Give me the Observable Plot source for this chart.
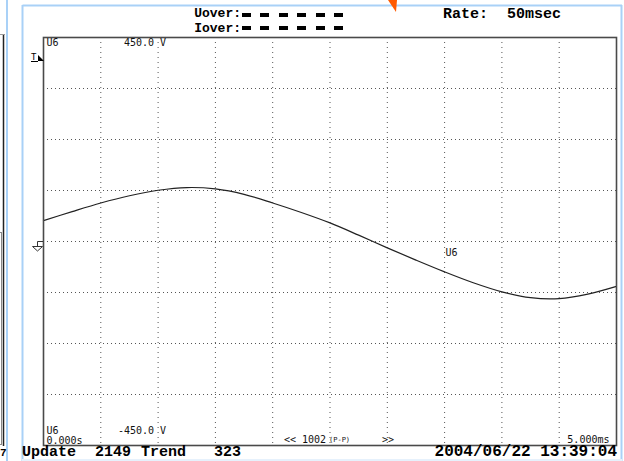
<!DOCTYPE html>
<html>
<head>
<meta charset="utf-8">
<script src="https://cdn.jsdelivr.net/npm/d3@7"></script>
<script src="https://cdn.jsdelivr.net/npm/@observablehq/plot@0.6"></script>
<style>
  html, body { margin: 0; padding: 0; background: #fff; overflow: hidden; }
  #chart { position: relative; width: 624px; height: 461px; }
</style>
</head>
<body>
<div id="chart"></div>
<script>
// ---- data ----
const timeMs = [0, 0.25, 0.5, 0.75, 1.0, 1.25, 1.5, 1.75, 2.0, 2.25, 2.5, 2.75, 3.0, 3.25, 3.5, 3.75, 4.0, 4.25, 4.5, 4.75, 5.0];
const u6Volts = [46, 66, 85, 101, 113, 119, 116, 104, 85, 64, 41, 14, -14, -41, -67, -91, -111, -124, -126, -116, -99];
const xGridTicks = [0.5, 1.0, 1.5, 2.0, 2.5, 3.0, 3.5, 4.0, 4.5];
const yGridTicks = [-337.5, -225, -112.5, 0, 112.5, 225, 337.5];
const channelName = "U6";
const yTopLabel = "450.0";
const yBottomLabel = "-450.0";
const unitLabel = "V";
const tStartLabel = "0.000s";
const tEndLabel = "5.000ms";
const ppLabel = ["<< 1002", "(P-P)", ">>"];
const headerLabels = ["Uover:", "Iover:"];
const rateLabels = ["Rate:", "50msec"];
const footerLabels = ["Update", "2149", "Trend", "323"];
const dateLabel = "2004/06/22 13:39:04";

const data = timeMs.map((t, i) => ({t, v: u6Volts[i]}));
const small = {fontFamily: "DejaVu Sans Mono", fontSize: 10, fill: "#111", lineAnchor: "bottom"};

const chart = Plot.plot({
  width: 624,
  height: 461,
  marginLeft: 43,
  marginRight: 8,
  marginTop: 37,
  marginBottom: 16,
  x: {domain: [0, 5], axis: null},
  y: {domain: [-450, 450], axis: null},
  style: {background: "transparent", overflow: "visible"},
  marks: [
    Plot.ruleX(xGridTicks, {stroke: "#555", strokeWidth: 1, strokeDasharray: "1,4"}),
    Plot.ruleY(yGridTicks, {stroke: "#555", strokeWidth: 1, strokeDasharray: "1,3"}),
    Plot.line(data, {x: "t", y: "v", curve: "catmull-rom", stroke: "#222", strokeWidth: 1.2}),
    Plot.frame({stroke: "#4a4a4a", strokeWidth: 1.6}),
    // labels inside the scope frame
    Plot.text([channelName], {x: 0, y: 450, text: d => d, textAnchor: "start", dx: 3, dy: 8, ...small}),
    Plot.text([yTopLabel], {x: 1, y: 450, text: d => d, textAnchor: "end", dx: -4, dy: 8, ...small}),
    Plot.text([unitLabel], {x: 1, y: 450, text: d => d, textAnchor: "start", dx: 2, dy: 8, ...small}),
    Plot.text([channelName], {x: 0, y: -450, text: d => d, textAnchor: "start", dx: 3, dy: -12, ...small}),
    Plot.text([tStartLabel], {x: 0, y: -450, text: d => d, textAnchor: "start", dx: 3, dy: -2, ...small}),
    Plot.text([yBottomLabel], {x: 1, y: -450, text: d => d, textAnchor: "end", dx: -4, dy: -12, ...small}),
    Plot.text([unitLabel], {x: 1, y: -450, text: d => d, textAnchor: "start", dx: 2, dy: -12, ...small}),
    Plot.text([ppLabel[0]], {x: 2.5, y: -450, text: d => d, textAnchor: "start", dx: -46, dy: -3, ...small}),
    Plot.text([ppLabel[1]], {x: 2.5, y: -450, text: d => d, textAnchor: "start", dx: -1, dy: -4, ...small, fontSize: 7}),
    Plot.text([ppLabel[2]], {x: 2.5, y: -450, text: d => d, textAnchor: "start", dx: 52, dy: -3, ...small}),
    Plot.text([tEndLabel], {x: 5, y: -450, text: d => d, textAnchor: "end", dx: -7, dy: -3, ...small}),
    Plot.text([channelName], {x: 3.5, y: 0, text: d => d, textAnchor: "start", dx: 1, dy: 14, ...small})
  ]
});

document.getElementById("chart").appendChild(chart);

// header / footer text and instrument chrome, positioned in pixels
const svg = d3.select(chart);
const chrome = svg.insert("g", ":first-child");
const blue = "#a9d1f7";
chrome.append("rect").attr("x", 0).attr("y", 0).attr("width", 624).attr("height", 461).attr("fill", "#fff");
chrome.append("line").attr("x1", 22.5).attr("x2", 622).attr("y1", 5.5).attr("y2", 5.5).attr("stroke", blue).attr("stroke-width", 2);
chrome.append("line").attr("x1", 22.5).attr("x2", 22.5).attr("y1", 5).attr("y2", 461).attr("stroke", blue).attr("stroke-width", 2);
chrome.append("line").attr("x1", 621.5).attr("x2", 621.5).attr("y1", 5).attr("y2", 461).attr("stroke", blue).attr("stroke-width", 2);
chrome.append("line").attr("x1", 22).attr("x2", 622).attr("y1", 460).attr("y2", 460).attr("stroke", "#e6f1fc").attr("stroke-width", 2);
chrome.append("line").attr("x1", 7).attr("x2", 7).attr("y1", 0).attr("y2", 461).attr("stroke", blue).attr("stroke-width", 2);
chrome.append("line").attr("x1", 3.5).attr("x2", 3.5).attr("y1", 34).attr("y2", 446).attr("stroke", "#222").attr("stroke-width", 1.5);
chrome.append("line").attr("x1", 0).attr("x2", 5).attr("y1", 34.5).attr("y2", 34.5).attr("stroke", "#999").attr("stroke-width", 1);
chrome.append("rect").attr("x", -2).attr("y", 232.5).attr("width", 3.5).attr("height", 212).attr("fill", "none").attr("stroke", "#888");
chrome.append("polygon").attr("points", "388,0 397,0 396,12").attr("fill", "#ff5a00");

const fg = svg.append("g");
function txt(s, x, y, opts = {}) {
  fg.append("text").attr("x", x).attr("y", y)
    .attr("font-family", opts.family || "Liberation Mono")
    .attr("font-weight", opts.weight || "bold")
    .attr("font-size", opts.size || 15)
    .attr("text-anchor", opts.anchor || "start")
    .attr("fill", "#000")
    .text(s);
}
txt(headerLabels[0], 241, 17, {anchor: "end", size: 13});
txt(headerLabels[1], 241, 32, {anchor: "end", size: 13});
txt(rateLabels[0], 443, 18);
txt(rateLabels[1], 507, 18);
txt(footerLabels[0], 22, 456);
txt(footerLabels[1], 95, 456);
txt(footerLabels[2], 141, 456);
txt(footerLabels[3], 214, 456);
txt(dateLabel, 617, 456, {anchor: "end", size: 16});
txt("7", 0, 456, {size: 11});
// over-range indicator bars
[13, 26].forEach(y => {
  [242, 260, 279, 297, 316, 334].forEach(x => {
    fg.append("rect").attr("x", x).attr("y", y).attr("width", 9).attr("height", 4).attr("fill", "#000");
  });
});
// trigger marker
txt("T", 31, 60, {family: "DejaVu Sans Mono", weight: "normal", size: 9});
fg.append("line").attr("x1", 31).attr("x2", 38).attr("y1", 61.5).attr("y2", 61.5).attr("stroke", "#000");
fg.append("polygon").attr("points", "38,55 44,61 38,61").attr("fill", "#000");
// ground marker
fg.append("path").attr("d", "M43,241.5 H37.5 V246.5 M32.5,246.5 H42.5 L37.5,251 Z").attr("fill", "none").attr("stroke", "#333").attr("stroke-width", 1);
</script>
</body>
</html>
